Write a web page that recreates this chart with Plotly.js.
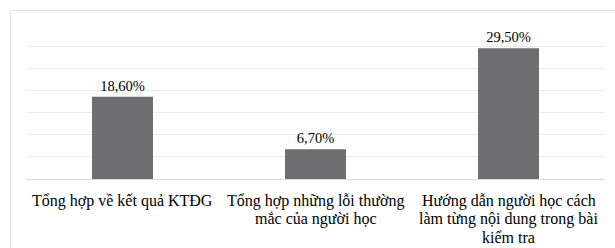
<!DOCTYPE html>
<html>
<head>
<meta charset="utf-8">
<script src="https://cdn.plot.ly/plotly-3.0.1.min.js"></script>
<style>
html,body{margin:0;padding:0;background:#fff;}
#wrap{position:relative;width:615px;height:248px;overflow:hidden;}
#chart{width:615px;height:248px;}
#frame{position:absolute;left:10px;top:10px;width:700px;height:300px;border:1px solid #e4e4e4;pointer-events:none;}
</style>
</head>
<body>
<div id="wrap"><div id="chart"></div><div id="frame"></div></div>
<script>
const categories = [
  "Tổng hợp về kết quả KTĐG",
  "Tổng hợp những lỗi thường mắc của người học",
  "Hướng dẫn người học cách làm từng nội dung trong bài kiểm tra"
];
const labelLines = [
  ["Tổng hợp về kết quả KTĐG"],
  ["Tổng hợp những lỗi thường", "mắc của người học"],
  ["Hướng dẫn người học cách", "làm từng nội dung trong bài", "kiểm tra"]
];
const values = [18.6, 6.7, 29.5];

const SERIF = 'Liberation Serif, Times New Roman, serif';

const trace = {
  type: 'bar',
  x: categories,
  y: values,
  marker: {color: '#6e6e70'},
  texttemplate: '%{y:.2f}%',
  textposition: 'outside',
  textfont: {family: SERIF, size: 14.5, color: '#000'},
  cliponaxis: false,
  hoverinfo: 'none'
};

const annotations = [];
labelLines.forEach((lines, ci) => {
  lines.forEach((line, li) => {
    annotations.push({
      x: categories[ci], xref: 'x',
      y: 0, yref: 'y',
      yanchor: 'middle', xanchor: 'center',
      yshift: -(22 + 18.3 * li),
      text: line, showarrow: false,
      font: {family: SERIF, size: 16, color: '#000'}
    });
  });
});

const layout = {
  width: 615, height: 248,
  margin: {l: 26, r: 10, t: 24, b: 69, pad: 0},
  paper_bgcolor: '#fff', plot_bgcolor: '#fff',
  separators: ',.',
  bargap: 0.684,
  showlegend: false,
  font: {family: SERIF, color: '#000'},
  annotations: annotations,
  xaxis: {
    type: 'category',
    showticklabels: false,
    ticks: '', showgrid: false, zeroline: false,
    showline: true, linecolor: '#d9d9d9', linewidth: 1,
    fixedrange: true
  },
  yaxis: {
    range: [0, 35], dtick: 5, tick0: 0,
    showticklabels: false, ticks: '',
    showgrid: true, gridcolor: '#ebebeb', gridwidth: 1,
    zeroline: false, showline: false,
    fixedrange: true
  }
};

Plotly.newPlot('chart', [trace], layout, {displayModeBar: false, staticPlot: true});
</script>
</body>
</html>
